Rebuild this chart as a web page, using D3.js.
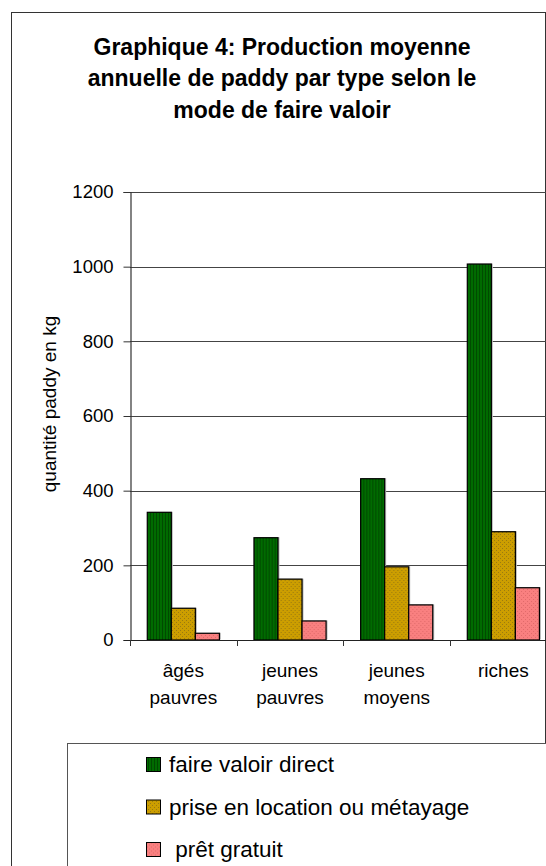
<!DOCTYPE html>
<html>
<head>
<meta charset="utf-8">
<script src="https://cdn.jsdelivr.net/npm/d3@7"></script>
<style>
  html, body { margin: 0; padding: 0; background: #fff; overflow: hidden; }
  svg { display: block; font-family: "Liberation Sans", Arial, sans-serif; }
</style>
</head>
<body>
<svg id="chart" width="546" height="866"></svg>
<script>
// Production moyenne annuelle de paddy (kg) par type de ménage et mode de faire valoir
const categories = [["âgés", "pauvres"], ["jeunes", "pauvres"], ["jeunes", "moyens"], ["riches"]];
const seriesNames = ["faire valoir direct", "prise en location ou métayage", " prêt gratuit"];
const faireValoirDirect = [342, 274, 432, 1007];
const locationMetayage = [85, 163, 196, 290];
const pretGratuit = [18, 51, 94, 140];
const yTicks = [0, 200, 400, 600, 800, 1000, 1200];
const titleLines = ["Graphique 4: Production moyenne", "annuelle de paddy par type selon le", "mode de faire valoir"];

const series = [faireValoirDirect, locationMetayage, pretGratuit];
const fills = ["url(#pat-green)", "url(#pat-gold)", "url(#pat-pink)"];

const svg = d3.select("#chart");

// Fill patterns: striped green, hatched gold, dotted pink
const defs = svg.append("defs");
const pg = defs.append("pattern").attr("id", "pat-green").attr("patternUnits", "userSpaceOnUse")
  .attr("width", 3).attr("height", 3);
pg.append("rect").attr("width", 3).attr("height", 3).attr("fill", "#006b00");
pg.append("rect").attr("x", 2).attr("width", 1).attr("height", 3).attr("fill", "#004a00");

const pd = defs.append("pattern").attr("id", "pat-gold").attr("patternUnits", "userSpaceOnUse")
  .attr("width", 4).attr("height", 4);
pd.append("rect").attr("width", 4).attr("height", 4).attr("fill", "#cc9e00");
pd.append("rect").attr("x", 0).attr("y", 0).attr("width", 1).attr("height", 1).attr("fill", "#9a7a10");
pd.append("rect").attr("x", 2).attr("y", 2).attr("width", 1).attr("height", 1).attr("fill", "#9a7a10");

const pp = defs.append("pattern").attr("id", "pat-pink").attr("patternUnits", "userSpaceOnUse")
  .attr("width", 4).attr("height", 4);
pp.append("rect").attr("width", 4).attr("height", 4).attr("fill", "#f98080");
pp.append("rect").attr("x", 1).attr("y", 1).attr("width", 1).attr("height", 1).attr("fill", "#e06a6a");
pp.append("rect").attr("x", 3).attr("y", 3).attr("width", 1).attr("height", 1).attr("fill", "#e06a6a");

// Outer chart frame (bottom runs past the visible area)
svg.append("rect").attr("x", 11.5).attr("y", 12.5).attr("width", 534).attr("height", 900)
  .attr("fill", "none").attr("stroke", "#333").attr("stroke-width", 1);

// Title
const title = svg.append("text").attr("text-anchor", "middle").attr("font-weight", "bold")
  .attr("font-size", 23).attr("fill", "#000");
titleLines.forEach((t, i) => {
  title.append("tspan").attr("x", 282).attr("y", 54.5 + i * 31.5).text(t);
});

// Scales
const x0 = d3.scaleBand().domain(d3.range(categories.length)).range([130, 556.7]).paddingInner(0).paddingOuter(0);
const y = d3.scaleLinear().domain([0, 1200]).range([640, 192]);
const groupInner = 0.162; // fraction of band left empty on each side of a bar group
const x1 = d3.scaleBand().domain(d3.range(series.length))
  .range([x0.bandwidth() * groupInner, x0.bandwidth() * (1 - groupInner)]).padding(0);

// Gridlines
svg.append("g").selectAll("line").data(yTicks.filter(d => d > 0)).join("line")
  .attr("x1", 130).attr("x2", 546)
  .attr("y1", d => Math.round(y(d)) + 0.5).attr("y2", d => Math.round(y(d)) + 0.5)
  .attr("stroke", "#444").attr("stroke-width", 1);

// Bars
const groups = svg.append("g").selectAll("g").data(categories).join("g")
  .attr("transform", (d, i) => `translate(${x0(i)},0)`);
groups.each(function (c, ci) {
  const g = d3.select(this);
  series.forEach((s, si) => {
    // soft shadow
    g.append("rect")
      .attr("x", x1(si) + 1.5).attr("y", y(s[ci]) - 0.5)
      .attr("width", x1.bandwidth()).attr("height", y(0) - y(s[ci]))
      .attr("fill", "#bbb");
    g.append("rect")
      .attr("x", x1(si)).attr("y", y(s[ci]))
      .attr("width", x1.bandwidth()).attr("height", y(0) - y(s[ci]))
      .attr("fill", fills[si]).attr("stroke", "#000").attr("stroke-width", 1.2);
  });
});

// Y axis
const yAxis = d3.axisLeft(y).tickValues(yTicks).tickSize(7).tickPadding(10).tickFormat(d3.format("d"));
const yg = svg.append("g").attr("transform", "translate(130.5,0)").call(yAxis);
yg.select(".domain").attr("stroke", "#333").attr("stroke-width", 1.2);
yg.selectAll(".tick line").attr("stroke", "#333");
yg.selectAll("text").attr("font-size", 18.5).attr("fill", "#000").attr("font-family", "Liberation Sans, Arial, sans-serif");

// X axis baseline and category separators
svg.append("line").attr("x1", 124).attr("x2", 546).attr("y1", 640.5).attr("y2", 640.5)
  .attr("stroke", "#222").attr("stroke-width", 1.2);
svg.append("g").selectAll("line").data(d3.range(categories.length)).join("line")
  .attr("x1", d => Math.round(x0(d)) + 0.5).attr("x2", d => Math.round(x0(d)) + 0.5)
  .attr("y1", 640).attr("y2", 646).attr("stroke", "#333");

// Category labels
const cl = svg.append("g").selectAll("text").data(categories).join("text")
  .attr("text-anchor", "middle").attr("font-size", 19).attr("fill", "#000");
cl.each(function (c, i) {
  const t = d3.select(this);
  c.forEach((line, li) => {
    t.append("tspan").attr("x", x0(i) + x0.bandwidth() / 2).attr("y", 677 + li * 27).text(line);
  });
});

// Y axis title
svg.append("text").attr("transform", "translate(56,404) rotate(-90)")
  .attr("text-anchor", "middle").attr("font-size", 19).attr("fill", "#000")
  .text("quantité paddy en kg");

// Legend
svg.append("rect").attr("x", 67.5).attr("y", 743.5).attr("width", 560).attr("height", 200)
  .attr("fill", "#fff").attr("stroke", "#555").attr("stroke-width", 1);
const lg = svg.append("g").selectAll("g").data(seriesNames).join("g")
  .attr("transform", (d, i) => `translate(146,${764.5 + i * 42.5})`);
lg.append("rect").attr("x", 0.5).attr("y", -7).attr("width", 14).attr("height", 14)
  .attr("fill", (d, i) => fills[i]).attr("stroke", "#000").attr("stroke-width", 1);
lg.append("text").attr("x", 23).attr("y", 7.5).attr("font-size", 22.5).attr("fill", "#000")
  .attr("xml:space", "preserve").style("white-space", "pre").text(d => d);
</script>
</body>
</html>
